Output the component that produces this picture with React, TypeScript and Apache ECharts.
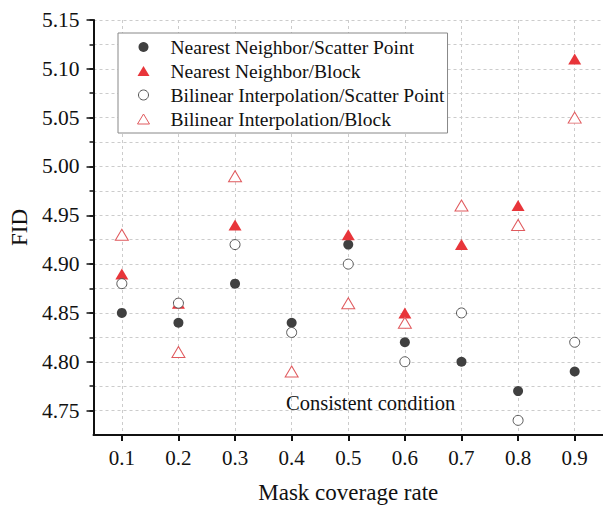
import React, { useEffect, useRef } from "react";
import * as echarts from "echarts";

const seriesNames = [
  "Nearest Neighbor/Scatter Point",
  "Nearest Neighbor/Block",
  "Bilinear Interpolation/Scatter Point",
  "Bilinear Interpolation/Block",
];
const xValues = [0.1, 0.2, 0.3, 0.4, 0.5, 0.6, 0.7, 0.8, 0.9];
const nnScatter = [4.85, 4.84, 4.88, 4.84, 4.92, 4.82, 4.8, 4.77, 4.79];
const nnBlock = [4.89, 4.86, 4.94, null, 4.93, 4.85, 4.92, 4.96, 5.11];
const biScatter = [4.88, 4.86, 4.92, 4.83, 4.9, 4.8, 4.85, 4.74, 4.82];
const biBlock = [4.93, 4.81, 4.99, 4.79, 4.86, 4.84, 4.96, 4.94, 5.05];
const yMajorTicks = [4.75, 4.8, 4.85, 4.9, 4.95, 5.0, 5.05, 5.1, 5.15];
const yGridTicks = [
  4.75, 4.775, 4.8, 4.825, 4.85, 4.875, 4.9, 4.925, 4.95, 4.975, 5.0, 5.025,
  5.05, 5.075, 5.1, 5.125, 5.15,
];
const annotation = "Consistent condition";

const FONT = "'Liberation Serif', 'Times New Roman', serif";

function pairs(vals: (number | null)[]) {
  const out: [number, number][] = [];
  vals.forEach((v, i) => {
    if (v !== null) out.push([xValues[i], v]);
  });
  return out;
}

export default function App() {
  const ref = useRef<HTMLDivElement>(null);
  useEffect(() => {
    if (!ref.current) return;
    const chart = echarts.init(ref.current, null, { renderer: "svg" });
    const axisLineStyle = { color: "#111", width: 2 };
    const option: any = {
      animation: false,
      backgroundColor: "#fff",
      textStyle: { fontFamily: FONT },
      grid: { left: 88, top: 20, width: 520, bottom: 72, containLabel: false },
      legend: {
        orient: "vertical",
        left: 118,
        top: 33,
        data: seriesNames,
        selectedMode: false,
        itemWidth: 12,
        itemHeight: 10,
        itemGap: 4,
        padding: [4, 3, 4, 19],
        borderColor: "#888",
        borderWidth: 1,
        backgroundColor: "#fff",
        itemStyle: { borderWidth: 1 },
        textStyle: {
          fontFamily: FONT,
          fontSize: 19.5,
          lineHeight: 20,
          color: "#111",
          padding: [0, 0, 0, 16],
        },
      },
      xAxis: {
        type: "value",
        min: 0.05,
        max: 0.95,
        name: "Mask coverage rate",
        nameLocation: "middle",
        nameGap: 46,
        nameTextStyle: { fontFamily: FONT, fontSize: 23, color: "#111" },
        axisLine: { show: true, onZero: false, lineStyle: axisLineStyle },
        axisTick: {
          show: true,
          customValues: xValues,
          length: 6,
          lineStyle: { color: "#111", width: 2 },
        },
        axisLabel: {
          customValues: xValues,
          margin: 12,
          fontFamily: FONT,
          fontSize: 21,
          color: "#111",
          formatter: (v: number) => v.toFixed(1),
        },
        splitLine: {
          show: true,
          lineStyle: { color: "#cccccc", type: [3, 3], width: 1 },
        },
      },
      yAxis: [
        {
          type: "value",
          min: 4.725,
          max: 5.15,
          name: "FID",
          nameLocation: "middle",
          nameGap: 60,
          nameTextStyle: { fontFamily: FONT, fontSize: 23, color: "#111" },
          axisLine: { show: true, onZero: false, lineStyle: axisLineStyle },
          axisTick: {
            show: true,
            customValues: yGridTicks,
            length: 4,
            lineStyle: { color: "#111", width: 1.5 },
          },
          axisLabel: {
            customValues: yMajorTicks,
            margin: 14,
            fontFamily: FONT,
            fontSize: 21.5,
            color: "#111",
            formatter: (v: number) => v.toFixed(2),
          },
          splitLine: {
            show: true,
            lineStyle: { color: "#cccccc", type: [3, 3], width: 1 },
          },
        },
        {
          type: "value",
          min: 4.725,
          max: 5.15,
          position: "left",
          axisLine: { show: false },
          axisTick: {
            show: true,
            customValues: yMajorTicks,
            length: 7,
            lineStyle: { color: "#111", width: 1.5 },
          },
          axisLabel: { show: false },
          splitLine: { show: false },
        },
      ],
      series: [
        {
          name: seriesNames[0],
          type: "scatter",
          symbol: "circle",
          symbolSize: 10,
          itemStyle: { color: "#404040", opacity: 1 },
          data: pairs(nnScatter),
        },
        {
          name: seriesNames[1],
          type: "scatter",
          symbol: "triangle",
          symbolSize: [13, 11],
          itemStyle: { color: "#e8353a", opacity: 1 },
          data: pairs(nnBlock),
        },
        {
          name: seriesNames[2],
          type: "scatter",
          symbol: "circle",
          symbolSize: 10,
          itemStyle: { color: "#fff", borderColor: "#555", borderWidth: 1, opacity: 1 },
          data: pairs(biScatter),
        },
        {
          name: seriesNames[3],
          type: "scatter",
          symbol: "triangle",
          symbolSize: [13, 11],
          itemStyle: { color: "#fff", borderColor: "#e05a5e", borderWidth: 1, opacity: 1 },
          data: pairs(biBlock),
        },
      ],
      graphic: [
        {
          type: "text",
          left: 286,
          top: 392,
          style: {
            text: annotation,
            fontFamily: FONT,
            fontSize: 20.5,
            fill: "#111",
          },
        },
      ],
    };
    chart.setOption(option);
    return () => chart.dispose();
  }, []);
  return (
    <div
      ref={ref}
      style={{ position: "fixed", left: 0, top: 0, width: 603, height: 509, background: "#fff" }}
    />
  );
}
